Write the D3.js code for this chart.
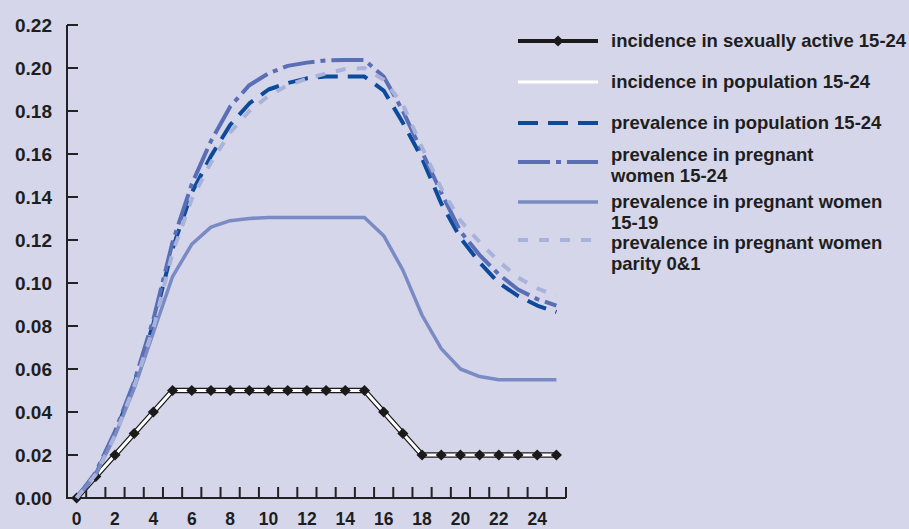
<!DOCTYPE html>
<html>
<head>
<meta charset="utf-8">
<script src="https://cdn.jsdelivr.net/npm/d3@7"></script>
<style>
  html, body { margin: 0; padding: 0; background: #d5d6e9; }
  svg { display: block; }
  text { font-family: "Liberation Sans", Arial, sans-serif; font-weight: bold; fill: #1e1e1e; }
</style>
</head>
<body>
<svg id="chart" width="909" height="529"></svg>
<script>
// ---- data ----
const categories = [0,1,2,3,4,5,6,7,8,9,10,11,12,13,14,15,16,17,18,19,20,21,22,23,24,25];
const xTickLabels = [0,2,4,6,8,10,12,14,16,18,20,22,24];
const yTickValues = [0,0.02,0.04,0.06,0.08,0.10,0.12,0.14,0.16,0.18,0.20,0.22];

const incidenceSexuallyActive = [0,0.01,0.02,0.03,0.04,0.05,0.05,0.05,0.05,0.05,0.05,0.05,0.05,0.05,0.05,0.05,0.04,0.03,0.02,0.02,0.02,0.02,0.02,0.02,0.02,0.02];
const incidencePopulation     = [0,0.01,0.02,0.03,0.04,0.05,0.05,0.05,0.05,0.05,0.05,0.05,0.05,0.05,0.05,0.05,0.04,0.03,0.02,0.02,0.02,0.02,0.02,0.02,0.02,0.02];
const prevalencePopulation    = [0,0.011,0.030,0.053,0.081,0.116,0.142,0.159,0.1735,0.1835,0.190,0.193,0.1952,0.196,0.196,0.196,0.1895,0.1745,0.158,0.137,0.121,0.1095,0.100,0.094,0.0895,0.0865];
const prevalencePregnant1524  = [0,0.012,0.031,0.054,0.083,0.119,0.146,0.166,0.182,0.192,0.1975,0.201,0.2025,0.2035,0.2037,0.2037,0.196,0.180,0.161,0.142,0.124,0.113,0.104,0.097,0.0925,0.0895];
const prevalencePregnant1519  = [0,0.011,0.029,0.051,0.077,0.103,0.118,0.126,0.129,0.130,0.1305,0.1305,0.1305,0.1305,0.1305,0.1305,0.122,0.106,0.085,0.0695,0.060,0.0565,0.055,0.055,0.055,0.055];
const prevalenceParity01      = [0,0.011,0.029,0.052,0.079,0.114,0.139,0.156,0.170,0.180,0.187,0.192,0.195,0.1975,0.1995,0.200,0.1945,0.183,0.163,0.144,0.129,0.119,0.110,0.1025,0.0975,0.094];

const legendLabels = [
  ["incidence in sexually active 15-24"],
  ["incidence in population 15-24"],
  ["prevalence in population 15-24"],
  ["prevalence in pregnant", "women 15-24"],
  ["prevalence in pregnant women", "15-19"],
  ["prevalence in pregnant women", "parity 0&1"]
];

// ---- layout ----
const svg = d3.select("#chart");
const plotLeft = 67, plotRight = 566, plotTop = 25, plotBottom = 498;

const x = d3.scaleBand().domain(categories).range([plotLeft, plotRight]).paddingInner(0).paddingOuter(0);
const xc = d => x(d) + x.bandwidth() / 2;
const y = d3.scaleLinear().domain([0, 0.22]).range([plotBottom, plotTop]);

const styles = [
  { color: "#1a1a1a", width: 5.5, dash: null },        // incidence sexually active
  { color: "#ffffff", width: 3, dash: null },          // incidence population
  { color: "#0c4a9c", width: 4, dash: "20,10" },       // prevalence population
  { color: "#5a6eb6", width: 4, dash: "32,6,5,6" },    // pregnant 15-24
  { color: "#7a8ac4", width: 3.5, dash: null },        // pregnant 15-19
  { color: "#a9b2da", width: 4, dash: "10,11" }        // parity 0&1
];

const line = d3.line().x((d, i) => xc(categories[i])).y(d => y(d));

// axes
const axisColor = "#222";
svg.append("line").attr("x1", plotLeft).attr("x2", plotLeft).attr("y1", plotTop).attr("y2", plotBottom)
  .attr("stroke", axisColor).attr("stroke-width", 2);
svg.append("line").attr("x1", plotLeft - 1).attr("x2", plotRight).attr("y1", plotBottom).attr("y2", plotBottom)
  .attr("stroke", axisColor).attr("stroke-width", 2);

// y ticks & labels
svg.selectAll(".ytick").data(yTickValues).enter().append("line")
  .attr("x1", plotLeft).attr("x2", plotLeft + 11)
  .attr("y1", d => y(d)).attr("y2", d => y(d))
  .attr("stroke", axisColor).attr("stroke-width", 2);
svg.selectAll(".ylab").data(yTickValues).enter().append("text")
  .attr("x", 52).attr("y", d => y(d)).attr("dy", "0.35em")
  .attr("text-anchor", "end").attr("font-size", 19)
  .text(d => d3.format(".2f")(d));

// x ticks (category boundaries)
svg.selectAll(".xtick").data(categories).enter().append("line")
  .attr("x1", d => x(d) + x.bandwidth()).attr("x2", d => x(d) + x.bandwidth())
  .attr("y1", plotBottom).attr("y2", plotBottom - 11)
  .attr("stroke", axisColor).attr("stroke-width", 2);
svg.selectAll(".xlab").data(xTickLabels).enter().append("text")
  .attr("x", d => xc(d)).attr("y", 524.5)
  .attr("text-anchor", "middle").attr("font-size", 17.5)
  .text(d => d);

// series
const seriesData = [incidenceSexuallyActive, incidencePopulation, prevalencePopulation,
                    prevalencePregnant1524, prevalencePregnant1519, prevalenceParity01];
seriesData.forEach((data, k) => {
  const s = styles[k];
  svg.append("path").datum(data)
    .attr("d", line)
    .attr("fill", "none")
    .attr("stroke", s.color)
    .attr("stroke-width", s.width)
    .attr("stroke-linejoin", "round")
    .attr("stroke-dasharray", s.dash);
  if (k === 1) {
    const diamond = d3.symbol().type(d3.symbolDiamond2).size(78);
    svg.selectAll(".dia").data(incidenceSexuallyActive).enter().append("path")
      .attr("d", diamond)
      .attr("transform", (d, i) => `translate(${xc(categories[i])},${y(d)})`)
      .attr("fill", "#1a1a1a");
  }
});

// legend
const legX1 = 518, legX2 = 598, legTextX = 611;
const legLineY = [41, 82, 123, 162, 202, 240];
const legTextY = [41, 82, 123, 155, 202, 243];
legendLabels.forEach((lines, k) => {
  const s = styles[k];
  svg.append("line")
    .attr("x1", legX1).attr("x2", legX2)
    .attr("y1", legLineY[k]).attr("y2", legLineY[k])
    .attr("stroke", s.color)
    .attr("stroke-width", k === 0 ? 4 : s.width)
    .attr("stroke-dasharray", s.dash);
  if (k === 0) {
    svg.append("path").attr("d", d3.symbol().type(d3.symbolDiamond2).size(80))
      .attr("transform", `translate(${(legX1 + legX2) / 2},${legLineY[k]})`)
      .attr("fill", "#1a1a1a");
  }
  const t = svg.append("text").attr("x", legTextX).attr("y", legTextY[k]).attr("font-size", 18.5);
  lines.forEach((ln, j) => {
    t.append("tspan").attr("x", legTextX).attr("y", legTextY[k] + j * 20.5).attr("dy", "0.35em").text(ln);
  });
});
</script>
</body>
</html>
